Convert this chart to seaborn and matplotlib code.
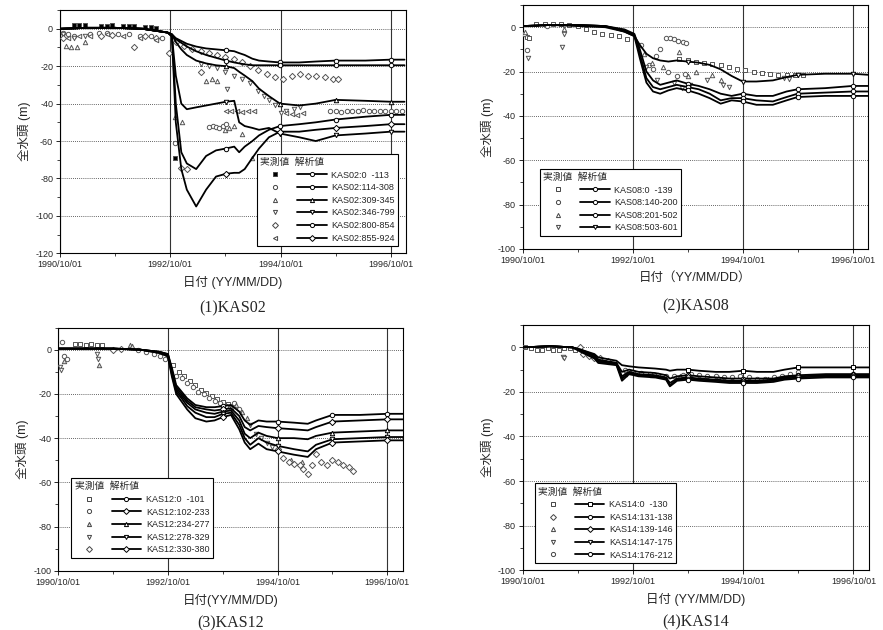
import numpy as np
import pandas as pd
import seaborn as sns
import matplotlib
matplotlib.use("Agg")
import matplotlib.pyplot as plt
from matplotlib.lines import Line2D
from matplotlib.ticker import FixedLocator, MultipleLocator

# ---- common axis data (decimal years) ----
x_ticks = [1990.75, 1992.75, 1994.75, 1996.75]
x_tick_labels = ["1990/10/01", "1992/10/01", "1994/10/01", "1996/10/01"]
x_minor = [1991.75, 1993.75, 1995.75]
mark_times = [1993.75, 1993.76, 1994.74, 1994.75, 1995.75, 1996.75]

# ---- (1) KAS02 : analysis ----
t02 = [1990.75, 1991.25, 1991.75, 1992.25, 1992.70, 1992.78, 1992.85, 1992.95, 1993.05,
       1993.22, 1993.40, 1993.58, 1993.76, 1993.91, 1994.00, 1994.10, 1994.24, 1994.36,
       1994.54, 1994.74, 1995.09, 1995.39, 1995.75, 1996.29, 1996.75, 1997.00]
k02_a = [0, 0.5, 0.5, 0, -2, -3, -5, -6.5, -8, -9.5, -10.5, -11, -11.5, -12, -13, -14, -16,
         -17, -17.5, -18, -18, -17.5, -17, -17, -16.5, -16.5]
k02_b = [0, 0.5, 0.5, 0, -2, -3, -5.5, -7.5, -9.5, -12, -14, -15.5, -17, -18, -18.5, -19,
         -19.5, -19.5, -19.5, -19.5, -19.5, -19.5, -19.5, -19.5, -19.5, -19.5]
k02_c = [0, 0.5, 0.5, 0, -2, -3, -7, -11, -14, -17, -18.5, -19.5, -20, -21, -23, -25, -28,
         -32, -36, -40, -41, -40, -38, -38.5, -39, -39]
k02_d = [0, 0.5, 0.5, 0, -2, -4, -25, -40, -43, -42, -41, -40, -39, -38.5, -50, -52, -53,
         -54, -53, -56, -58, -60, -57, -56, -55, -55]
k02_e = [0, 0.5, 0.5, 0, -2, -4, -40, -66, -72, -75, -68, -65, -64, -63, -66, -63, -60, -57,
         -54, -52, -51, -50, -48.5, -47, -46, -46]
k02_f = [0, 0.5, 0.5, 0, -2, -4, -50, -75, -86, -95, -86, -79, -77.5, -77, -77, -75, -69,
         -64, -58, -55, -55, -54, -53, -52, -51, -51]
lab02 = ["KAS02:0  -113", "KAS02:114-308", "KAS02:309-345", "KAS02:346-799",
         "KAS02:800-854", "KAS02:855-924"]

# ---- (1) KAS02 : observed ----
o02_sq_t = [1991.0, 1991.1, 1991.2, 1991.5, 1991.6, 1991.7, 1991.9, 1992.0, 1992.1, 1992.3,
            1992.4, 1992.5, 1992.84]
o02_sq_v = [2, 2, 2, 1.5, 1.5, 2, 1.5, 1.5, 1.5, 1, 1, 0.5, -69]
o02_ci_t = [1990.8, 1990.9, 1991.0, 1991.3, 1991.45, 1991.6, 1991.8, 1992.0, 1992.2, 1992.4,
            1992.6, 1992.83, 1993.46, 1993.52, 1993.58, 1993.64, 1993.7, 1993.76, 1995.65,
            1995.75, 1995.85, 1995.95, 1996.05, 1996.15, 1996.25, 1996.35, 1996.45, 1996.55,
            1996.65, 1996.75, 1996.85, 1996.95]
o02_ci_v = [-2, -3, -4, -3, -2, -2, -3, -3, -4, -4, -5, -61, -52.5, -52, -52.5, -53, -52, -51,
            -44, -44, -44.5, -44, -44, -44, -43.5, -44, -44, -44, -44, -44, -44, -44]
o02_tu_t = [1990.85, 1990.95, 1991.05, 1991.2, 1992.83, 1992.97, 1993.4, 1993.5, 1993.6,
            1993.75, 1993.82, 1993.9, 1994.06, 1994.24]
o02_tu_v = [-9, -10, -10, -7, -47, -50, -28, -27, -28, -54, -53, -52, -56, -69]
o02_td_t = [1990.8, 1991.0, 1991.2, 1993.3, 1993.45, 1993.6, 1993.75, 1993.78, 1993.9,
            1994.05, 1994.2, 1994.35, 1994.45, 1994.55, 1994.65, 1994.75, 1994.85, 1995.0,
            1995.1]
o02_td_v = [-3, -5, -4, -19, -20, -21, -23, -32, -25, -27, -29, -33, -36, -38, -41, -45,
            -44, -43, -42]
o02_di_t = [1990.8, 1991.5, 1991.7, 1992.1, 1992.3, 1992.5, 1992.72, 1992.95, 1993.05,
            1993.3, 1992.85, 1993.0, 1993.15, 1993.3, 1993.45, 1993.6, 1993.75, 1993.9,
            1994.05, 1994.2, 1994.35, 1994.5, 1994.65, 1994.8, 1994.95, 1995.1, 1995.25,
            1995.4, 1995.55, 1995.7, 1995.8]
o02_di_v = [-5, -4, -3.5, -9.5, -4, -5, -13, -74.5, -75, -23, -7, -9, -11, -12, -13, -14,
            -15, -16, -18, -20, -22, -24, -26, -27, -25, -24, -25, -25.5, -26, -27, -27]
o02_tl_t = [1990.9, 1991.1, 1991.3, 1991.6, 1991.9, 1992.2, 1992.5, 1993.76, 1993.86,
            1993.96, 1994.06, 1994.16, 1994.26, 1994.85, 1994.95, 1995.05, 1995.15]
o02_tl_v = [-5, -4, -4, -3, -4, -5, -6, -44, -44, -44, -44.5, -44, -44, -45, -45.5, -46, -45]

# ---- (2) KAS08 ----
t08 = [1990.75, 1991.25, 1991.75, 1992.25, 1992.60, 1992.78, 1992.88, 1993.00, 1993.12,
       1993.25, 1993.40, 1993.55, 1993.75, 1993.95, 1994.15, 1994.35, 1994.55, 1994.75,
       1995.00, 1995.30, 1995.55, 1995.75, 1996.25, 1996.75, 1997.05]
k08_a = [0.5, 1, 1, 0.5, -1, -3, -10, -20, -24, -26, -25, -24, -25.5, -26.5, -28, -30, -31,
         -30, -31, -31, -29, -28, -27.5, -26.5, -26.5]
k08_b = [0.5, 1, 1, 0.5, -1.5, -3.5, -12, -23, -27, -28, -27, -26, -27, -28, -30, -33, -32,
         -32, -33, -33.5, -31.5, -30, -29.5, -29, -29]
k08_c = [0.5, 1, 1, 0.5, -2, -4, -14, -25, -29, -30, -28.5, -27.5, -28.5, -30, -32, -34.5,
         -33, -33.5, -35, -35, -33, -31.5, -31, -31, -31]
k08_d = [0.5, 1, 0.5, 0, -2, -4, -8, -12, -14, -15, -15.5, -15, -15.5, -16, -17, -19, -22,
         -24.5, -24.5, -24, -22.5, -21.5, -21, -21, -21.5]
lab08 = ["KAS08:0  -139", "KAS08:140-200", "KAS08:201-502", "KAS08:503-601"]

o08_sq_t = [1990.78, 1990.82, 1990.86, 1991.0, 1991.15, 1991.3, 1991.45, 1991.6, 1991.75,
            1991.9, 1992.05, 1992.2, 1992.35, 1992.5, 1992.65, 1993.6, 1993.75, 1993.9,
            1994.05, 1994.2, 1994.35, 1994.5, 1994.65, 1994.8, 1994.95, 1995.1, 1995.25,
            1995.4, 1995.55, 1995.7, 1995.85]
o08_sq_v = [-3, -4.5, -5, 1.5, 1.5, 1.5, 1.5, 1, 0.5, -1, -2, -3, -3.5, -4, -5.5, -14.5, -15,
            -15.5, -16, -16.5, -17, -18, -19, -19.5, -20, -20.5, -21, -21.5, -21.5, -21.5,
            -21.5]
o08_ci_t = [1990.78, 1990.82, 1991.2, 1992.9, 1993.05, 1993.12, 1993.18, 1993.25, 1993.35,
            1993.42, 1993.5, 1993.58, 1993.66, 1993.72, 1993.4, 1993.55, 1993.7]
o08_ci_v = [-3, -10.5, 0.5, -8, -17, -19, -13, -10, -5, -5, -5.5, -6, -6.5, -7, -20, -22, -21]
o08_tu_t = [1990.8, 1991.5, 1992.95, 1993.1, 1993.3, 1993.6, 1993.75, 1993.9, 1994.2,
            1994.35]
o08_tu_v = [-2, -1, -12, -16, -18, -11, -22, -20, -21.5, -24]
o08_td_t = [1990.84, 1991.46, 1991.5, 1993.0, 1993.2, 1993.5, 1993.65, 1993.8, 1994.1,
            1994.4, 1994.5, 1995.5, 1995.6]
o08_td_v = [-14, -9, -3, -18, -24, -25, -27.5, -26, -24, -26, -27, -23, -23.5]

# ---- (3) KAS12 ----
t12 = [1990.75, 1991.25, 1991.75, 1992.25, 1992.60, 1992.75, 1992.82, 1992.90, 1993.00,
       1993.10, 1993.25, 1993.45, 1993.60, 1993.75, 1993.90, 1994.05, 1994.15, 1994.25,
       1994.40, 1994.55, 1994.75, 1995.05, 1995.30, 1995.45, 1995.75, 1996.25, 1996.75,
       1997.05]
k12_a = [0.5, 0.5, 0.5, 0, -1, -2, -8, -16, -19, -22, -25, -26, -26, -25.5, -25, -28, -32,
         -34, -32, -32.5, -32.5, -33, -33.5, -32, -29.5, -29.5, -29, -29]
k12_b = [0.5, 0.5, 0.5, 0, -1, -2, -9, -17, -20, -23, -26, -27, -27.5, -27, -26.5, -30, -35,
         -36.5, -34.5, -35, -35.5, -36, -36.5, -35, -32.5, -32, -31.5, -31.5]
k12_c = [0.5, 0.5, 0.5, 0, -1, -2.5, -10, -18, -21, -24, -27, -28.5, -29, -28, -27.5, -32,
         -38, -40, -37.5, -39, -40, -40, -40.5, -39, -37.5, -37, -36.5, -36.5]
k12_d = [0.5, 0.5, 0.5, 0, -1.5, -3, -11, -19, -22, -25.5, -28.5, -30.5, -30.5, -29, -28.5,
         -34, -40, -43, -40, -42, -43.5, -45, -46, -43, -40.5, -40, -39.5, -39.5]
k12_e = [0.5, 0.5, 0.5, 0, -1.5, -3, -12, -20, -23.5, -27, -31, -32.5, -32, -30.5, -29.5,
         -36, -42, -45, -42.5, -45, -46, -47.5, -48.5, -45, -42, -41.5, -41, -41]
lab12 = ["KAS12:0  -101", "KAS12:102-233", "KAS12:234-277", "KAS12:278-329",
         "KAS12:330-380"]

o12_sq_t = [1991.05, 1991.15, 1991.25, 1991.35, 1991.45, 1991.55, 1992.85, 1992.95, 1993.05,
            1993.15, 1993.25, 1993.35, 1993.45, 1993.55, 1993.65, 1993.75, 1993.85]
o12_sq_v = [2.5, 2.5, 2, 2.5, 2, 2, -7, -10, -12, -14, -16, -18, -19.5, -21, -22.5, -23.5,
            -24.5]
o12_ci_t = [1990.81, 1990.85, 1990.9, 1992.2, 1992.35, 1992.5, 1992.6, 1992.7, 1992.9,
            1993.0, 1993.1, 1993.2, 1993.3, 1993.4, 1993.5, 1993.6, 1993.7, 1993.8, 1993.95,
            1994.05]
o12_ci_v = [3.5, -3, -4, 0, -1, -2, -3, -4, -12, -13, -15, -17, -19, -20, -22, -23, -24,
            -25.5, -24, -27]
o12_tu_t = [1990.85, 1991.5, 1992.05, 1992.1, 1993.9, 1994.0, 1994.1, 1994.2, 1995.0,
            1995.2]
o12_tu_v = [-5, -7, 2, 1.5, -26, -25, -28, -31, -50, -51]
o12_td_t = [1990.78, 1990.8, 1991.45, 1991.48, 1994.25, 1994.35, 1994.45, 1994.55, 1994.65]
o12_td_v = [-8, -9, -2, -4, -34, -38, -40, -42, -44]
o12_di_t = [1991.75, 1991.9, 1994.75, 1994.85, 1994.95, 1995.05, 1995.15, 1995.22, 1995.3,
            1995.38, 1995.45, 1995.55, 1995.65, 1995.75, 1995.85, 1995.95, 1996.05, 1996.12]
o12_di_v = [0, 0.5, -45, -49, -51, -51.5, -52, -54, -56, -52, -47, -51, -52, -50, -51, -52,
            -53, -55]

# ---- (4) KAS14 ----
t14 = [1990.75, 1991.25, 1991.65, 1991.80, 1992.05, 1992.12, 1992.45, 1992.55, 1992.68,
       1992.85, 1993.15, 1993.35, 1993.42, 1993.55, 1993.75, 1993.95, 1994.25, 1994.50,
       1994.75, 1995.00, 1995.30, 1995.50, 1995.75, 1996.25, 1996.75, 1997.05]
k14_a = [0, 0.5, 0, -1, -3, -4.5, -6, -8, -8.5, -9, -9.5, -10, -10.5, -10, -10, -10.5, -11,
         -11, -10.5, -11, -11, -10, -9, -9, -9, -9]
k14_b = [0, 0.5, 0, -1, -3.5, -5.5, -7, -11, -10, -11, -11.5, -12.5, -14, -13, -12.5, -13,
         -13.5, -14, -14, -14, -14, -13, -12.5, -12, -12, -12]
k14_c = [0, 0.5, 0, -1.5, -4, -6, -7, -13, -11, -12, -12.5, -13.5, -16, -14, -13.5, -14,
         -14.5, -15, -15, -15, -14.5, -13.5, -13, -12.5, -12.5, -12.5]
k14_d = [0, 0.5, 0, -1.5, -4.5, -6.5, -7.5, -14, -11.5, -12.5, -13, -14, -17, -14.5, -14,
         -14.5, -15, -15.5, -15.5, -15.5, -15, -14, -13.5, -13, -13, -13]
k14_e = [0, 0.5, 0, -2, -5, -7, -8, -15, -12, -13, -13.5, -14.5, -17.5, -15, -14.5, -15,
         -15.5, -16, -16, -16, -15.5, -14.5, -14, -13.5, -13.5, -13.5]
lab14 = ["KAS14:0  -130", "KAS14:131-138", "KAS14:139-146", "KAS14:147-175",
         "KAS14:176-212"]

o14_sq_t = [1990.8, 1990.9, 1991.0, 1991.1, 1991.2, 1991.3, 1991.4, 1991.5, 1991.6, 1991.7]
o14_sq_v = [0, -0.5, -1, -1, -0.5, -1, -1, -0.5, -0.5, -1]
o14_di_t = [1991.78, 1991.85, 1991.95, 1992.05, 1992.15, 1992.3]
o14_di_v = [0, -3, -4, -5, -5, -6]
o14_tu_t = [1992.6, 1992.7, 1993.1, 1993.6, 1994.3, 1995.2]
o14_tu_v = [-12, -11, -12.5, -13, -13.5, -14]
o14_td_t = [1991.48, 1991.5]
o14_td_v = [-4.5, -5]
o14_ci_t = [1992.6, 1992.75, 1992.9, 1993.05, 1993.2, 1993.35, 1993.5, 1993.65, 1993.8,
            1993.95, 1994.1, 1994.25, 1994.4, 1994.55, 1994.7, 1994.85, 1995.0, 1995.15,
            1995.3, 1995.45, 1995.6, 1995.75]
o14_ci_v = [-10, -11, -11.5, -12, -12.5, -13, -13, -12.5, -12, -12.5, -13, -13, -13.5, -13.5,
            -13, -13.5, -14, -14, -13.5, -13, -12, -11]

sns.set_style("white")
plt.rcParams["font.family"] = ["Liberation Sans", "Noto Sans CJK JP", "DejaVu Sans"]
plt.rcParams["axes.unicode_minus"] = False

fig = plt.figure(figsize=(8.83, 6.30), dpi=100)


def draw_panel(rect, t, lines, labels, line_marks, obs, obs_marks, ylim, leg_loc, leg_anchor,
               xlabel, title, title_y):
    ax = fig.add_axes(rect)
    # observed (measured) points
    for (ot, ov), (m, fc) in zip(obs, obs_marks):
        sns.scatterplot(x=ot, y=ov, marker=m, s=10, color=fc, edgecolor="#555555",
                        linewidth=0.7, ax=ax, zorder=3)
    # analysis curves
    idx = [i for i, v in enumerate(t) if v in mark_times]
    for vals, m in zip(lines, line_marks):
        sns.lineplot(x=t, y=vals, color="black", lw=1.3, marker=m, markersize=3.2,
                     markerfacecolor="white", markeredgecolor="black", markeredgewidth=0.7,
                     markevery=idx, ax=ax, zorder=4)
    ax.set_xlim(1990.75, 1997.03)
    ax.set_ylim(*ylim)
    ax.xaxis.set_major_locator(FixedLocator(x_ticks))
    ax.set_xticklabels(x_tick_labels)
    ax.xaxis.set_minor_locator(FixedLocator(x_minor))
    ax.yaxis.set_major_locator(MultipleLocator(20))
    ax.yaxis.set_minor_locator(MultipleLocator(10))
    ax.tick_params(axis="both", which="major", labelsize=6.5, length=3, width=0.7,
                   direction="out", pad=2, left=True, bottom=True)
    ax.tick_params(axis="both", which="minor", length=2, width=0.6, left=True, bottom=True)
    ax.grid(False)
    for xv in x_ticks:
        ax.axvline(xv, color="#333333", lw=0.8, zorder=1)
    for yv in range(-120, 1, 20):
        if ylim[0] < yv < ylim[1]:
            ax.axhline(yv, color="#333333", lw=0.6, ls=(0, (1, 1.5)), zorder=1)
    for sp in ax.spines.values():
        sp.set_color("black")
        sp.set_linewidth(0.8)
    ax.set_xlabel(xlabel, fontsize=9, labelpad=5)
    ax.set_ylabel("全水頭 (m)", fontsize=9, labelpad=3)

    # legend: measured-marker column + analysis-line column
    h_obs = [Line2D([], [], ls="none", marker=m, ms=3, mfc=fc, mec="#444444", mew=0.7)
             for m, fc in obs_marks]
    h_line = [Line2D([], [], color="black", lw=1.3, marker=m, ms=3, mfc="white",
                     mec="black", mew=0.7) for m in line_marks]
    leg = ax.legend(h_obs + h_line, [""] * len(h_obs) + labels, ncol=2, loc=leg_loc,
                    bbox_to_anchor=leg_anchor, fontsize=6.5, title="実測値  解析値",
                    title_fontsize=7, alignment="left", frameon=True, fancybox=False,
                    edgecolor="black", framealpha=1, handlelength=3.3, handletextpad=0.5,
                    columnspacing=0.3, labelspacing=0.4, borderpad=0.35)
    leg.get_frame().set_linewidth(0.8)
    leg.set_zorder(6)
    cx = rect[0] + rect[2] / 2
    fig.text(cx, title_y, title, ha="center", va="center", fontsize=11.5,
             family=["Liberation Serif"])
    return ax


draw_panel([0.068, 0.598, 0.392, 0.386], t02,
           [k02_a, k02_b, k02_c, k02_d, k02_e, k02_f], lab02,
           ["o", "o", "^", "v", "o", "D"],
           [(o02_sq_t, o02_sq_v), (o02_ci_t, o02_ci_v), (o02_tu_t, o02_tu_v),
            (o02_td_t, o02_td_v), (o02_di_t, o02_di_v), (o02_tl_t, o02_tl_v)],
           [("s", "black"), ("o", "white"), ("^", "white"), ("v", "white"), ("D", "white"),
            ("<", "white")],
           (-120, 10), "lower right", (0.99, 0.012), "日付 (YY/MM/DD)", "(1)KAS02",
           1 - 308 / 630)

draw_panel([0.592, 0.605, 0.391, 0.387], t08, [k08_a, k08_b, k08_c, k08_d], lab08,
           ["o", "o", "o", "v"],
           [(o08_sq_t, o08_sq_v), (o08_ci_t, o08_ci_v), (o08_tu_t, o08_tu_v),
            (o08_td_t, o08_td_v)],
           [("s", "white"), ("o", "white"), ("^", "white"), ("v", "white")],
           (-100, 10), "lower left", (0.036, 0.036), "日付（YY/MM/DD）", "(2)KAS08",
           1 - 306 / 630)

draw_panel([0.066, 0.094, 0.390, 0.386], t12, [k12_a, k12_b, k12_c, k12_d, k12_e], lab12,
           ["o", "D", "^", "v", "D"],
           [(o12_sq_t, o12_sq_v), (o12_ci_t, o12_ci_v), (o12_tu_t, o12_tu_v),
            (o12_td_t, o12_td_v), (o12_di_t, o12_di_v)],
           [("s", "white"), ("o", "white"), ("^", "#dddddd"), ("v", "white"), ("D", "white")],
           (-100, 10), "lower left", (0.025, 0.036), "日付(YY/MM/DD)", "(3)KAS12",
           1 - 623 / 630)

draw_panel([0.592, 0.095, 0.392, 0.389], t14, [k14_a, k14_b, k14_c, k14_d, k14_e], lab14,
           ["s", "o", "D", "v", "o"],
           [(o14_sq_t, o14_sq_v), (o14_di_t, o14_di_v), (o14_tu_t, o14_tu_v),
            (o14_td_t, o14_td_v), (o14_ci_t, o14_ci_v)],
           [("s", "white"), ("D", "white"), ("^", "white"), ("v", "white"), ("o", "white")],
           (-100, 10), "lower left", (0.021, 0.012), "日付 (YY/MM/DD)", "(4)KAS14",
           1 - 622 / 630)

fig.savefig("out.png", dpi=100)
